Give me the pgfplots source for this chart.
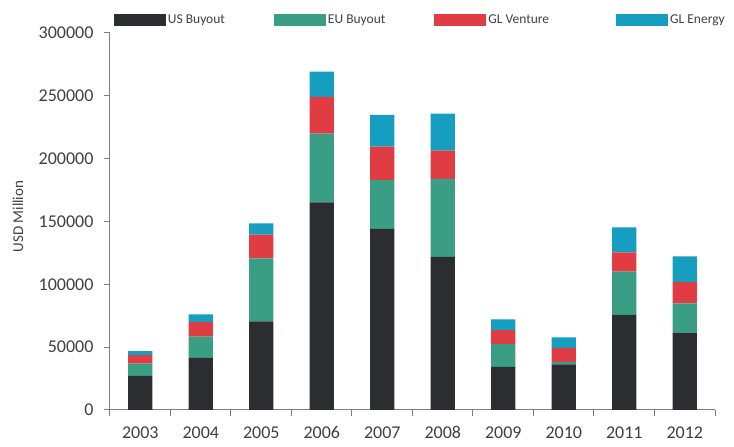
\documentclass[border=0pt]{standalone}
\usepackage{pgfplots}
\pgfplotsset{compat=1.18}
\usepackage{fontspec}
\setmainfont{Carlito}
\definecolor{cUS}{HTML}{2B2D31}
\definecolor{cEU}{HTML}{3A9E84}
\definecolor{cGV}{HTML}{E03C44}
\definecolor{cGE}{HTML}{159EC0}
\definecolor{txt}{HTML}{404040}
\definecolor{axl}{HTML}{7F7F7F}
\begin{document}
\begin{tikzpicture}
\useasboundingbox (-110pt,-37pt) rectangle (624pt,410pt);
\begin{axis}[
  at={(0,0)}, anchor=south west,
  scale only axis, width=605pt, height=377pt,
  ybar stacked, bar width=0.4,
  xmin=-0.5, xmax=9.5, ymin=0, ymax=300000,
  axis x line*=bottom, axis y line*=left,
  axis line style={axl, line width=1pt},
  xtick={0,...,9},
  xticklabels={2003,2004,2005,2006,2007,2008,2009,2010,2011,2012},
  minor xtick={-0.5,0.5,...,9.5},
  major x tick style={draw=none},
  minor x tick style={axl, line width=1pt},
  tick align=outside,
  minor tick length=6pt,
  ytick={0,50000,...,300000},
  major y tick style={axl, line width=1pt},
  major tick length=6pt,
  scaled y ticks=false,
  yticklabel style={/pgf/number format/fixed, /pgf/number format/1000 sep={}},
  /pgf/number format/assume math mode=true,
  ticklabel style={font=\fontsize{18}{20}\selectfont, text=txt},
  xticklabel style={yshift=-7pt},
  yticklabel style={xshift=-7pt},
  ylabel={USD Million},
  ylabel style={font=\fontsize{15}{17}\selectfont, text=txt, at={(axis description cs:-0.152,0.513)}, anchor=center},
  legend columns=4,
  legend style={draw=none, fill=none, at={(axis description cs:0.513,1.035)}, anchor=center,
    font=\fontsize{13.5}{15}\selectfont, text=txt, inner sep=0pt,
    /tikz/every even column/.append style={column sep=47pt},
    /tikz/every odd column/.append style={column sep=0pt}},
  legend image code/.code={\fill[#1] (0pt,-6.3pt) rectangle (52pt,6.3pt);},
]
\addplot[fill=cUS, draw=none] coordinates {(0,27200) (1,41500) (2,70500) (3,165300) (4,144200) (5,121900) (6,34300) (7,36400) (8,75600) (9,61500)};
\addplot[fill=cEU, draw=none] coordinates {(0,9800) (1,16800) (2,50100) (3,54600) (4,38700) (5,62000) (6,18100) (7,1900) (8,34600) (9,23400)};
\addplot[fill=cGV, draw=none] coordinates {(0,6600) (1,11700) (2,18900) (3,29300) (4,26600) (5,22400) (6,11200) (7,10900) (8,15200) (9,16800)};
\addplot[fill=cGE, draw=none] coordinates {(0,3200) (1,6100) (2,9100) (3,20000) (4,25300) (5,29600) (6,8500) (7,8500) (8,20000) (9,20500)};
\legend{US Buyout, EU Buyout, GL Venture\hspace*{18pt}, GL Energy}
\end{axis}
\end{tikzpicture}
\end{document}
